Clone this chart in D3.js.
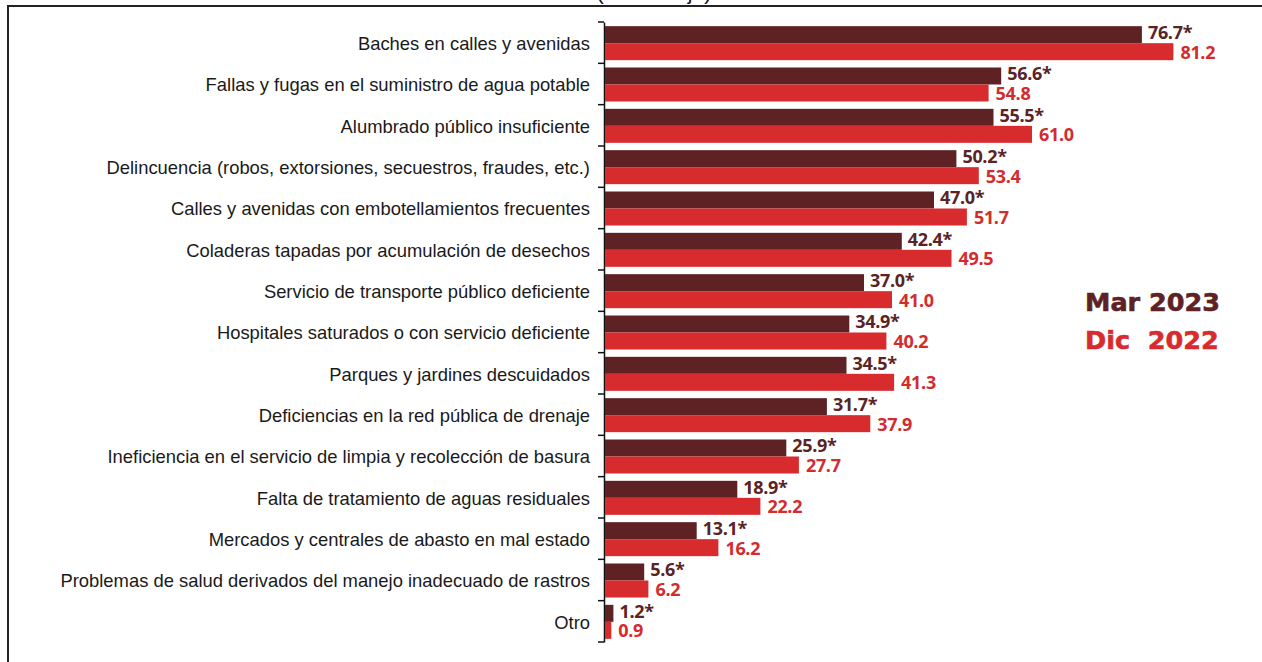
<!DOCTYPE html>
<html>
<head>
<meta charset="utf-8">
<script src="https://cdn.jsdelivr.net/npm/d3@7"></script>
<style>
  html, body { margin: 0; padding: 0; background: #fff; }
  svg { display: block; }
</style>
</head>
<body>
<svg id="chart" width="1262" height="662"></svg>
<script>
const categories = [
  "Baches en calles y avenidas",
  "Fallas y fugas en el suministro de agua potable",
  "Alumbrado público insuficiente",
  "Delincuencia (robos, extorsiones, secuestros, fraudes, etc.)",
  "Calles y avenidas con embotellamientos frecuentes",
  "Coladeras tapadas por acumulación de desechos",
  "Servicio de transporte público deficiente",
  "Hospitales saturados o con servicio deficiente",
  "Parques y jardines descuidados",
  "Deficiencias en la red pública de drenaje",
  "Ineficiencia en el servicio de limpia y recolección de basura",
  "Falta de tratamiento de aguas residuales",
  "Mercados y centrales de abasto en mal estado",
  "Problemas de salud derivados del manejo inadecuado de rastros",
  "Otro"
];
const mar2023 = [76.7, 56.6, 55.5, 50.2, 47.0, 42.4, 37.0, 34.9, 34.5, 31.7, 25.9, 18.9, 13.1, 5.6, 1.2];
const dic2022 = [81.2, 54.8, 61.0, 53.4, 51.7, 49.5, 41.0, 40.2, 41.3, 37.9, 27.7, 22.2, 16.2, 6.2, 0.9];
const seriesNames = ["Mar 2023", "Dic  2022"];
const seriesColors = ["#5e2224", "#d82b2e"];
const labelColors = ["#5a2325", "#d32c2f"];
const title = "(Porcentaje)";

const svg = d3.select("#chart");

// frame
svg.append("line").attr("x1", 8).attr("x2", 1262).attr("y1", 6).attr("y2", 6)
  .attr("stroke", "#222").attr("stroke-width", 2);
svg.append("line").attr("x1", 8).attr("x2", 8).attr("y1", 5).attr("y2", 662)
  .attr("stroke", "#222").attr("stroke-width", 2);

// clipped title (only descenders visible, as in the reference)
svg.append("text").attr("x", 654).attr("y", 0)
  .attr("text-anchor", "middle")
  .attr("font-family", "Liberation Sans, Arial, sans-serif")
  .attr("font-size", 21).attr("fill", "#111").text(title);

const x0 = 605;
const x = d3.scaleLinear().domain([0, 81.2]).range([x0, x0 + 81.2 * 7.0]);
const y = d3.scaleBand().domain(categories).range([22, 642]).paddingInner(0).paddingOuter(0);
const sub = d3.scaleBand().domain([0, 1]).range([0, 34]);

// axis
const axis = d3.axisLeft(y).tickSize(0).tickFormat("");
const gAxis = svg.append("g").attr("transform", `translate(${x0 - 1},0)`).call(axis);
gAxis.select(".domain").attr("stroke", "#111").attr("stroke-width", 1.5);

// boundary ticks
const bounds = categories.map(c => y(c)).concat([y.range()[1]]);
svg.append("g").selectAll("line").data(bounds).join("line")
  .attr("x1", x0 - 7).attr("x2", x0 - 1).attr("y1", d => d).attr("y2", d => d)
  .attr("stroke", "#111").attr("stroke-width", 1.5);

// category labels
svg.append("g").selectAll("text").data(categories).join("text")
  .attr("x", 590).attr("y", d => y(d) + y.bandwidth() / 2 + 1)
  .attr("dy", "0.35em")
  .attr("text-anchor", "end")
  .attr("font-family", "Liberation Sans, Arial, sans-serif")
  .attr("font-size", 18.4).attr("fill", "#1a1a1a")
  .text(d => d);

const series = [mar2023, dic2022];
const offTop = (y.bandwidth() - 34) / 2 + 0.5;

series.forEach((vals, si) => {
  const g = svg.append("g");
  g.selectAll("rect").data(categories).join("rect")
    .attr("x", x0)
    .attr("y", (d) => y(d) + offTop + sub(si))
    .attr("width", (d, i) => x(vals[i]) - x0)
    .attr("height", sub.bandwidth())
    .attr("fill", seriesColors[si]);
  g.selectAll("text").data(categories).join("text")
    .attr("x", (d, i) => x(vals[i]) + (si === 0 ? 6 : 7))
    .attr("y", d => y(d) + offTop + sub(si) + sub.bandwidth() / 2 - (si === 0 ? 2 : -0.5))
    .attr("dy", "0.36em")
    .attr("font-family", "Open Sans, sans-serif")
    .attr("font-weight", "bold")
    .attr("font-size", 18)
    .attr("letter-spacing", -0.3)
    .attr("fill", labelColors[si])
    .text((d, i) => vals[i].toFixed(1) + (si === 0 ? "*" : ""));
});

// legend
seriesNames.forEach((name, i) => {
  svg.append("text")
    .attr("x", 1085).attr("y", 311 + i * 38)
    .attr("font-family", "DejaVu Sans, sans-serif")
    .attr("font-weight", "bold")
    .attr("font-size", 25.5)
    .attr("fill", seriesColors[i])
    .attr("stroke", seriesColors[i])
    .attr("stroke-width", 0.6)
    .style("white-space", "pre")
    .text(name);
});
</script>
</body>
</html>
